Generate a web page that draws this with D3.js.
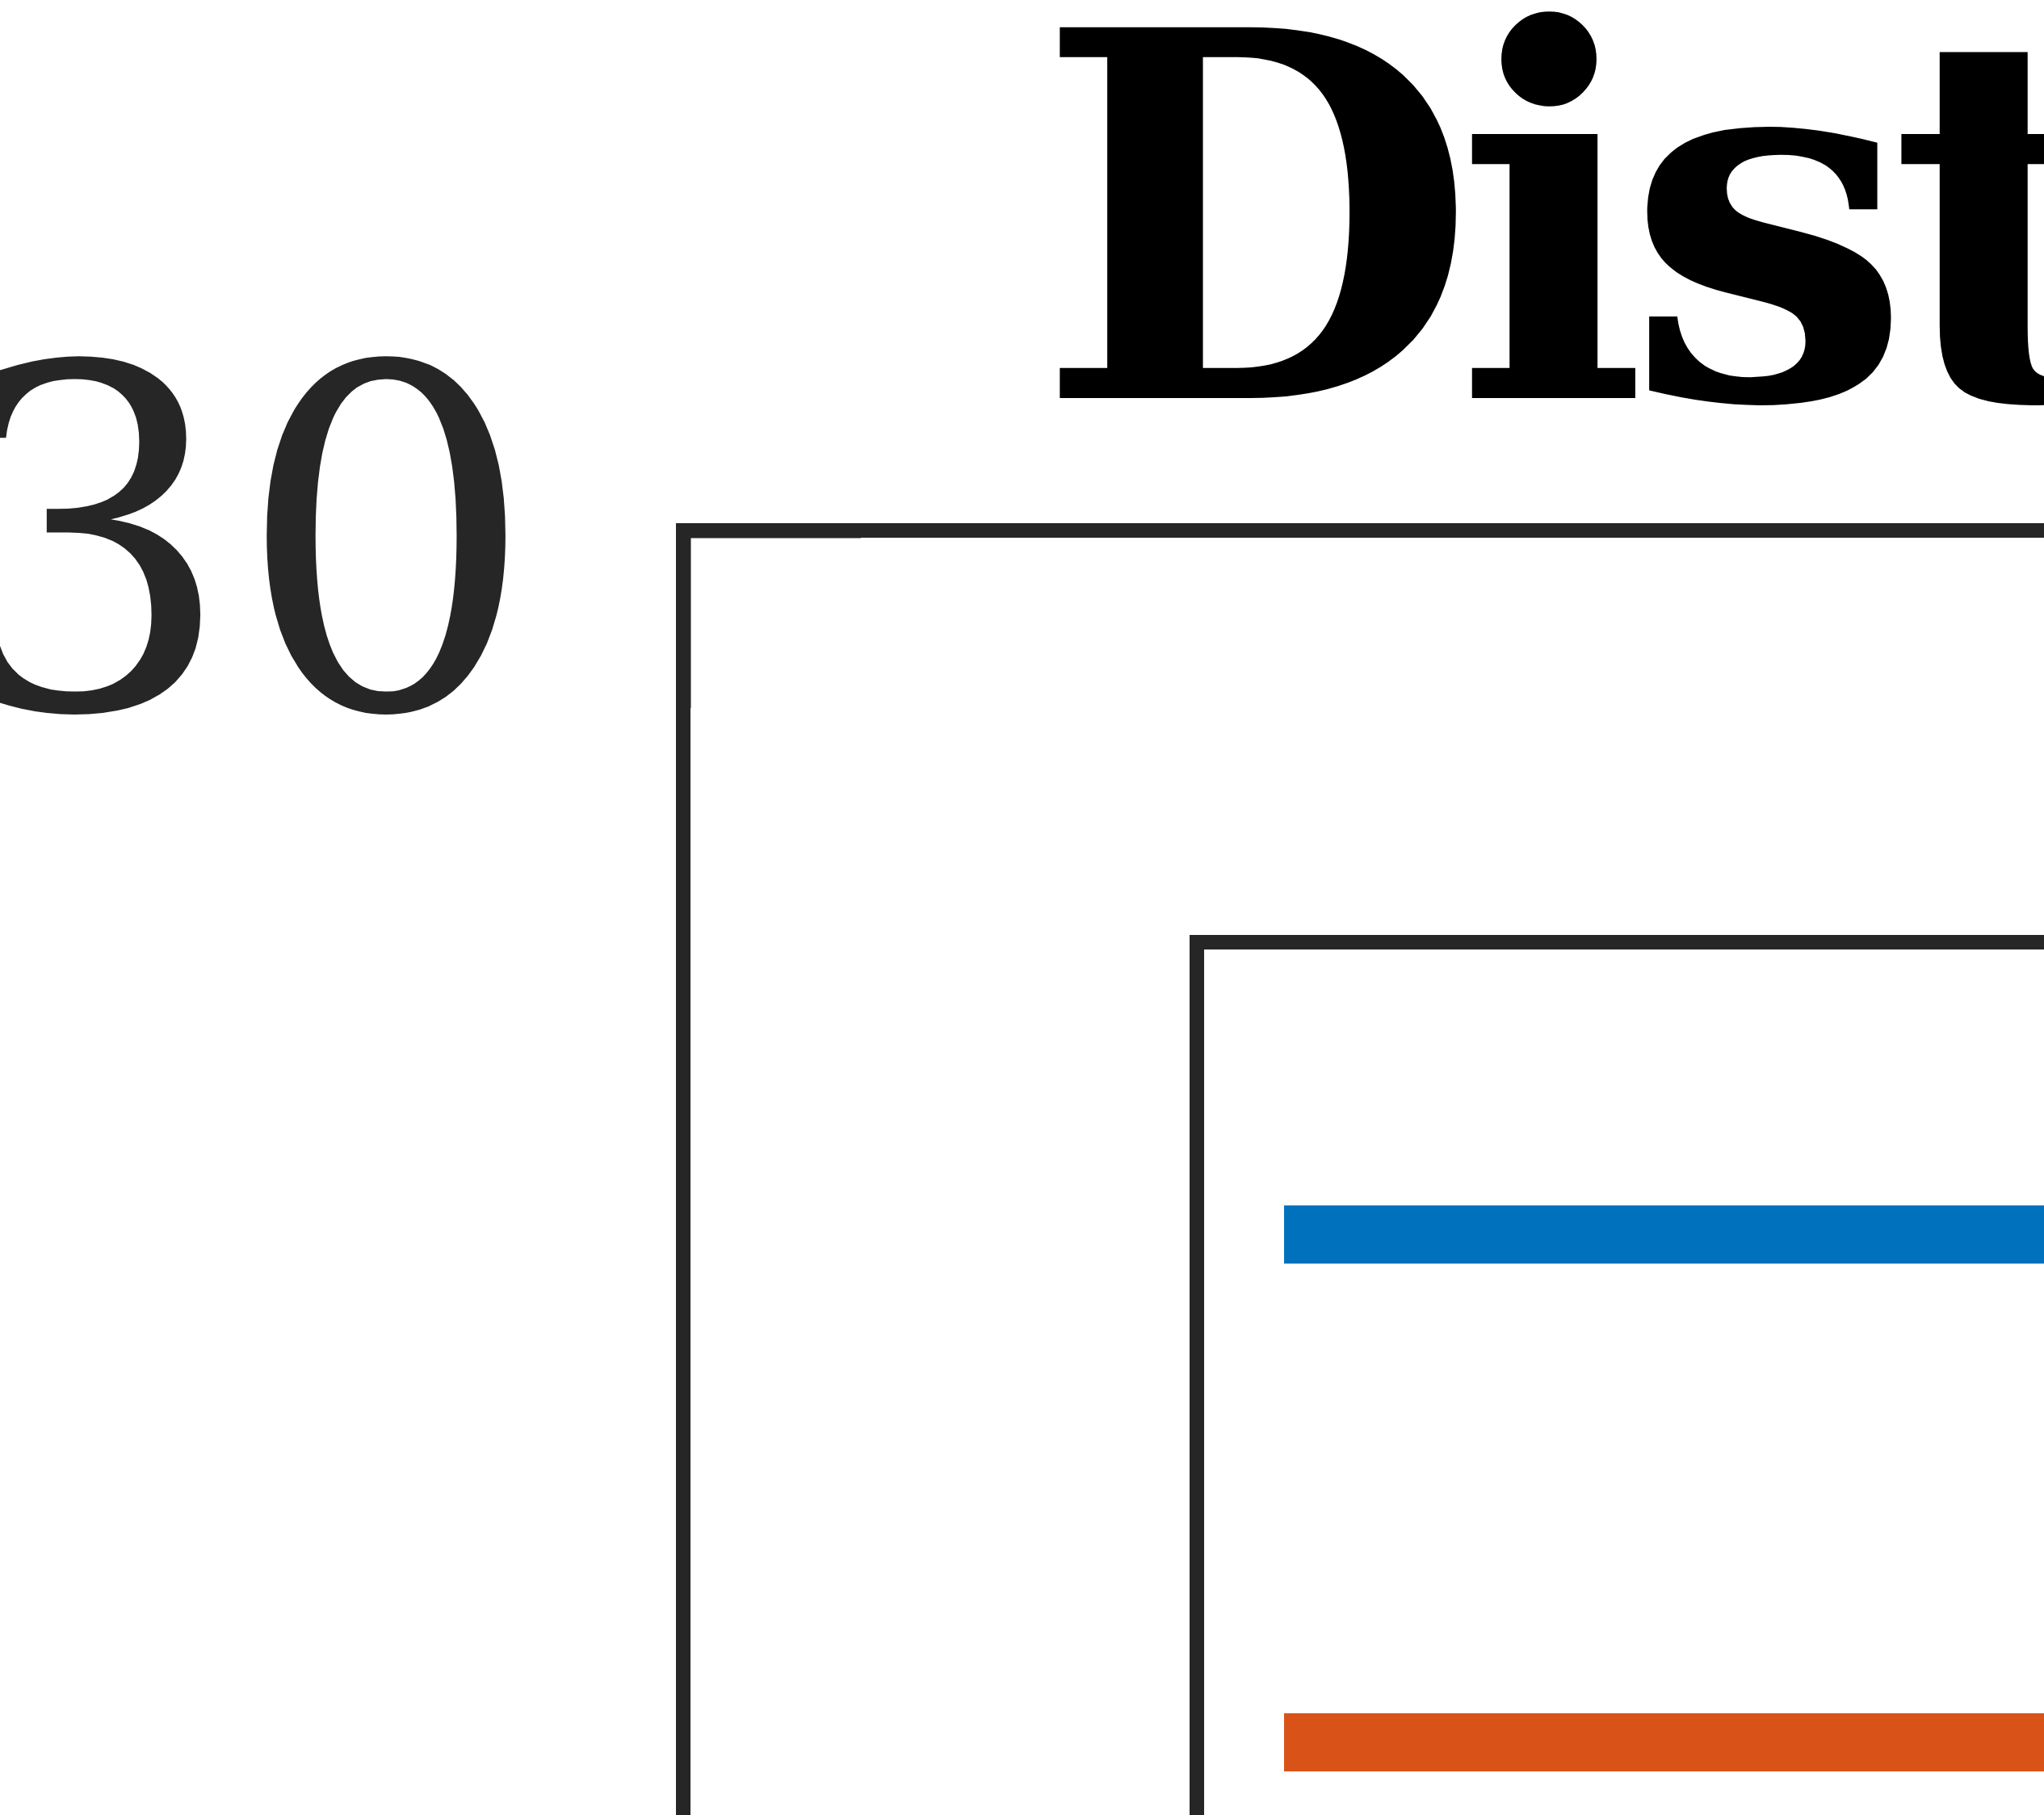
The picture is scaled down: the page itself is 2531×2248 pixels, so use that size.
<!DOCTYPE html>
<html>
<head>
<meta charset="utf-8">
<script src="https://cdn.jsdelivr.net/npm/d3@7"></script>
<style>
  html, body { margin: 0; padding: 0; background: #ffffff; overflow: hidden; }
  svg { display: block; }
</style>
</head>
<body>
<div id="chart"></div>
<script>
// ---- data ----
const titleText = "Distribution";
const yTickValues = [0, 10, 20, 30];
const yTickLabels = ["0", "10", "20", "30"];
const xTickValues = [0, 1, 2, 3];
const seriesNames = ["Series 1", "Series 2"];
const seriesColors = ["#0072BD", "#D95319"];

// ---- layout ----
const W = 2531, H = 2248;
const FONT = "'DejaVu Serif', serif";
const plotLeft = 846, plotTop = 657;
const plotW = 9000, plotH = 9000;
const axisColor = "#262626";
const axisW = 18;
const tickLen = 220;

// ink-metric helper (canvas)
const ctx = document.createElement("canvas").getContext("2d");
function ink(text, weight) {
  ctx.font = `${weight} 100px ${FONT}`;
  const m = ctx.measureText(text);
  return { l: m.actualBoundingBoxLeft / 100, r: m.actualBoundingBoxRight / 100,
           a: m.actualBoundingBoxAscent / 100, d: m.actualBoundingBoxDescent / 100,
           w: m.width / 100 };
}

// title metrics: cap "D" top at 33, baseline at 493, left ink at 1308
const dM = ink("D", "bold");
const titleSize = (493 - 33) / dM.a;
// tick label metrics: "30" ink from y 442 to 882, right ink at 626
const tM = ink("30", "normal");
const tickSize = (882 - 442) / (tM.a + tM.d);

const svg = d3.select("#chart").append("svg")
  .attr("width", W).attr("height", H)
  .attr("viewBox", `0 0 ${W} ${H}`);

const x = d3.scaleLinear().domain([0, 3]).range([plotLeft, plotLeft + plotW]);
const y = d3.scaleLinear().domain([0, 30]).range([plotTop + plotH, plotTop]);

// Title
svg.append("text")
  .attr("x", 1308 + dM.l * titleSize)
  .attr("y", 493)
  .attr("font-family", FONT)
  .attr("font-weight", "bold")
  .attr("font-size", titleSize)
  .attr("letter-spacing", -28)
  .attr("fill", "#000000")
  .text(titleText);

// Left axis
const labelEnd = 626 + (tM.w - tM.r) * tickSize;
const yAxis = d3.axisLeft(y)
  .tickValues(yTickValues)
  .tickFormat((d, i) => yTickLabels[i])
  .tickSizeInner(-tickLen)
  .tickSizeOuter(0)
  .tickPadding(plotLeft - labelEnd);

const gy = svg.append("g")
  .attr("transform", `translate(${plotLeft},0)`)
  .call(yAxis);
gy.select(".domain").remove();
gy.selectAll(".tick line")
  .attr("stroke", axisColor)
  .attr("stroke-width", axisW);
gy.selectAll(".tick text")
  .attr("font-family", FONT)
  .attr("font-size", tickSize)
  .attr("fill", axisColor)
  .attr("dy", (442 + tM.a * tickSize) - plotTop);

// Top axis (box, ticks inward, no labels)
const xAxisTop = d3.axisTop(x)
  .tickValues(xTickValues)
  .tickFormat("")
  .tickSizeInner(-tickLen)
  .tickSizeOuter(0);
const gx = svg.append("g")
  .attr("transform", `translate(0,${plotTop})`)
  .call(xAxisTop);
gx.select(".domain").remove();
gx.selectAll(".tick line")
  .attr("stroke", axisColor)
  .attr("stroke-width", axisW);

// Box frame
svg.append("rect")
  .attr("x", x.range()[0])
  .attr("y", y.range()[1])
  .attr("width", plotW)
  .attr("height", plotH)
  .attr("fill", "none")
  .attr("stroke", axisColor)
  .attr("stroke-width", axisW)
  .attr("stroke-linejoin", "miter");

// Legend
const legX = 1482, legY = 1167;
const rowY0 = 1529, rowStep = 629;
const lineX0 = 1590, lineLen = 1200;
const leg = svg.append("g");
leg.append("rect")
  .attr("x", legX).attr("y", legY)
  .attr("width", 3000).attr("height", 1600)
  .attr("fill", "#ffffff")
  .attr("stroke", axisColor)
  .attr("stroke-width", axisW);
const rows = leg.selectAll(".row").data(seriesNames).join("g")
  .attr("transform", (d, i) => `translate(0,${rowY0 + i * rowStep})`);
rows.append("line")
  .attr("x1", lineX0).attr("x2", lineX0 + lineLen)
  .attr("y1", 0).attr("y2", 0)
  .attr("stroke", (d, i) => seriesColors[i])
  .attr("stroke-width", 72);
rows.append("text")
  .attr("x", lineX0 + lineLen + 100)
  .attr("dy", "0.35em")
  .attr("font-family", FONT)
  .attr("font-size", tickSize)
  .attr("fill", "#000")
  .text(d => d);
</script>
</body>
</html>
